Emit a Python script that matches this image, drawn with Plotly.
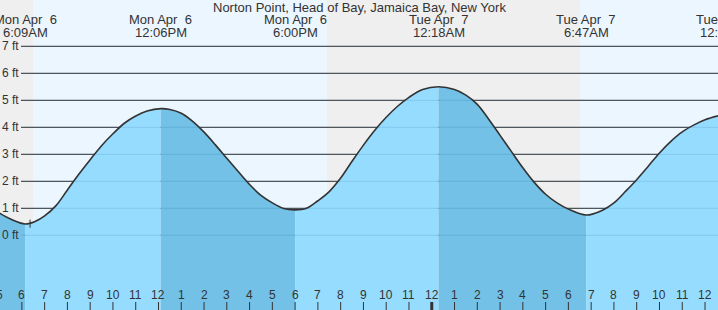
import plotly.graph_objects as go

# ---------------- data ----------------
title_text = "Norton Point, Head of Bay, Jamaica Bay, New York"

# hours since Mon Apr 6 00:00 ; heights in ft
tide_times = [5.0, 5.5, 6.15, 6.6, 7.0, 7.5, 8.0, 8.5, 9.0, 9.5, 10.0, 10.5, 11.0, 11.5,
              12.1, 12.5, 13.0, 13.5, 14.0, 14.5, 15.0, 15.5, 16.0, 16.5, 17.0, 17.5,
              18.0, 18.5, 19.0, 19.5, 20.0, 20.5, 21.0, 21.5, 22.0, 22.5, 23.0, 23.6,
              24.3, 25.0, 25.5, 26.0, 26.5, 27.0, 27.5, 28.0, 28.5, 29.0, 29.5, 30.0,
              30.78, 31.5, 32.0, 32.5, 33.0, 33.5, 34.0, 34.5, 35.0, 35.5, 36.0, 36.6]
tide_heights = [0.83, 0.60, 0.42, 0.52, 0.72, 1.10, 1.68, 2.26, 2.80, 3.32, 3.76, 4.15, 4.42, 4.60,
                4.69, 4.66, 4.52, 4.22, 3.82, 3.35, 2.85, 2.36, 1.88, 1.48, 1.20, 0.99,
                0.94, 1.00, 1.28, 1.62, 2.12, 2.74, 3.34, 3.89, 4.37, 4.78, 5.11, 5.40,
                5.50, 5.40, 5.19, 4.85, 4.30, 3.70, 3.10, 2.50, 1.96, 1.52, 1.20, 0.97,
                0.75, 0.93, 1.20, 1.62, 2.06, 2.55, 3.05, 3.48, 3.83, 4.08, 4.28, 4.43]

extreme_times = [6.15, 12.10, 18.00, 24.30, 30.78, 36.90]
extreme_days = ["Mon Apr  6", "Mon Apr  6", "Mon Apr  6", "Tue Apr  7", "Tue Apr  7", "Tue Apr  7"]
extreme_clock = ["6:09AM", "12:06PM", "6:00PM", "12:18AM", "6:47AM", "12:54PM"]

daylight_start = [6.49, 30.51]
daylight_end = [19.40, 40.0]

ft_levels = [0, 1, 2, 3, 4, 5, 6, 7]
ft_labels = ["0 ft", "1 ft", "2 ft", "3 ft", "4 ft", "5 ft", "6 ft", "7 ft"]

hour_ticks = list(range(5, 37))
hour_labels = [str((h - 1) % 12 + 1) for h in hour_ticks]

now_time = 6.36
now_height = 0.43

# ---------------- style ----------------
X0, X1 = 5.04, 36.57
Y0, Y1 = -2.767, 8.715
W, H = 718, 310
FONT = "Liberation Sans, Arial, sans-serif"
TXT = "#333333"
NIGHT = "#efefef"
DAY = "#ebf6ff"
RISE = "#96dcff"
FALL = "#73c1e6"


def xp(t):
    """data x -> paper fraction (lets labels sit partly outside the axis range)"""
    return (t - X0) / (X1 - X0)


fig = go.Figure()

# fill segments between extremes (rising = light, falling = dark)
split_idx = [0] + [tide_times.index(t) for t in extreme_times if t in tide_times] + [len(tide_times) - 1]
split_idx = sorted(set(split_idx))
for a, b in zip(split_idx[:-1], split_idx[1:]):
    xs = tide_times[a:b + 1]
    ys = tide_heights[a:b + 1]
    color = RISE if ys[-1] > ys[0] else FALL
    fig.add_trace(go.Scatter(x=[xs[0], xs[-1]], y=[Y0 - 1, Y0 - 1], mode="lines",
                             line=dict(width=0), hoverinfo="skip", showlegend=False))
    fig.add_trace(go.Scatter(x=xs, y=ys, mode="lines", line=dict(width=0, shape="spline"),
                             fill="tonexty", fillcolor=color, hoverinfo="skip", showlegend=False))

# tide curve
fig.add_trace(go.Scatter(x=tide_times, y=tide_heights, mode="lines",
                         line=dict(color="#333333", width=1.6, shape="spline"),
                         hoverinfo="skip", showlegend=False))

shapes = []
shapes.append(dict(type="rect", xref="paper", yref="paper", x0=0, x1=1, y0=0, y1=1,
                   fillcolor=NIGHT, line=dict(width=0), layer="below"))
for s, e in zip(daylight_start, daylight_end):
    shapes.append(dict(type="rect", xref="x", yref="paper", x0=s, x1=e, y0=0, y1=1,
                       fillcolor=DAY, line=dict(width=0), layer="below"))
gx0 = 21 / W
for lv in ft_levels:
    shapes.append(dict(type="line", xref="paper", yref="y", x0=gx0, x1=1, y0=lv, y1=lv,
                       line=dict(color="#333333", width=1), layer="below"))
    shapes.append(dict(type="line", xref="paper", yref="y", x0=gx0, x1=1, y0=lv, y1=lv,
                       line=dict(color="rgba(0,70,120,0.13)", width=1), layer="above"))
for h in hour_ticks:
    shapes.append(dict(type="line", xref="x", yref="paper", x0=h, x1=h, y0=0, y1=8 / H,
                       line=dict(color="#333333", width=3 if h == 24 else 1), layer="above"))
shapes.append(dict(type="line", xref="x", yref="y", x0=now_time, x1=now_time,
                   y0=now_height - 0.15, y1=now_height + 0.15,
                   line=dict(color="#333333", width=1), layer="above"))

ann = []
ann.append(dict(text=title_text, xref="paper", yref="paper", x=0.5, y=1 - 8 / H,
                xanchor="center", yanchor="middle", showarrow=False,
                font=dict(family=FONT, size=13, color=TXT)))
for t, d, c in zip(extreme_times, extreme_days, extreme_clock):
    ann.append(dict(text=d.replace("  ", " \u00a0"), xref="paper", yref="paper", x=xp(t), y=1 - 20 / H,
                    xanchor="center", yanchor="middle", showarrow=False,
                    font=dict(family=FONT, size=13, color=TXT)))
    ann.append(dict(text=c, xref="paper", yref="paper", x=xp(t), y=1 - 32 / H, xanchor="center",
                    yanchor="middle", showarrow=False, font=dict(family=FONT, size=13, color=TXT)))
for lv, lb in zip(ft_levels, ft_labels):
    ann.append(dict(text=lb, xref="paper", yref="y", x=20.5 / W, y=lv, xanchor="right",
                    yanchor="middle", showarrow=False, font=dict(family=FONT, size=12, color=TXT)))
for h, lb in zip(hour_ticks, hour_labels):
    ann.append(dict(text=lb, xref="paper", yref="paper", x=xp(h), y=(H - 295) / H, xanchor="center",
                    yanchor="middle", showarrow=False, font=dict(family=FONT, size=12, color=TXT)))

fig.update_layout(
    width=W, height=H, margin=dict(l=0, r=0, t=0, b=0),
    paper_bgcolor="white", plot_bgcolor="rgba(0,0,0,0)",
    xaxis=dict(range=[X0, X1], visible=False, fixedrange=True),
    yaxis=dict(range=[Y0, Y1], visible=False, fixedrange=True),
    shapes=shapes, annotations=ann, showlegend=False,
)
fig.write_html("out.html", config={"displayModeBar": False})
